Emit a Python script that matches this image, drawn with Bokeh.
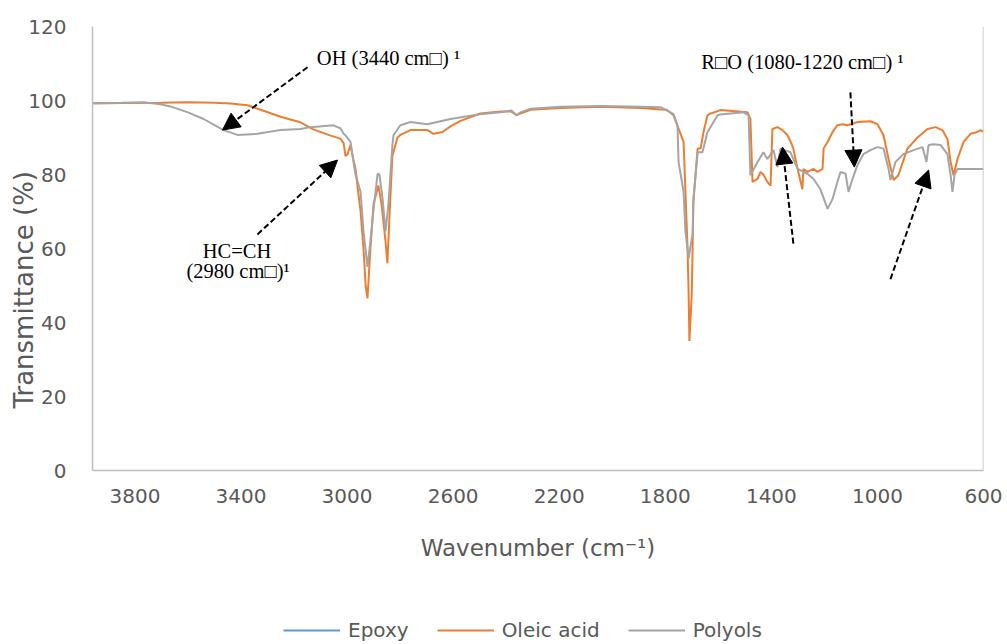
from bokeh.plotting import figure
from bokeh.layouts import column
from bokeh.models import (Range1d, Legend, LegendItem, Span, Label, Arrow, NormalHead,
                          FixedTicker, ColumnDataSource)
from bokeh.embed import file_html
from bokeh.resources import INLINE

# ---------------- data ----------------
x_ticks = [3800, 3400, 3000, 2600, 2200, 1800, 1400, 1000, 600]
y_ticks = [0, 20, 40, 60, 80, 100, 120]
series_names = ["Epoxy", "Oleic acid", "Polyols"]

epoxy_wn = []
epoxy_t = []

oleic_wn = [3960, 3850, 3700, 3600, 3500, 3440, 3375, 3326, 3251, 3176, 3127, 3062, 3025, 3013,
            3006, 2998, 2987, 2976, 2968, 2961, 2949, 2938, 2930, 2923, 2912, 2900, 2882, 2870,
            2855, 2848, 2836, 2829, 2810, 2799, 2761, 2697, 2674, 2640, 2610, 2572, 2497, 2421,
            2380, 2361, 2346, 2308, 2195, 2044, 1893, 1818, 1795, 1769, 1731, 1716, 1712, 1709,
            1700, 1694, 1678, 1667, 1656, 1641, 1629, 1592, 1490, 1479, 1471, 1452, 1441, 1430,
            1415, 1403, 1396, 1377, 1358, 1339, 1328, 1317, 1301, 1283, 1279, 1264, 1241, 1226,
            1207, 1203, 1188, 1169, 1151, 1132, 1113, 1075, 1026, 1000, 977, 958, 939, 921, 887,
            849, 811, 781, 755, 736, 724, 713, 698, 675, 649, 623, 611, 600]
oleic_t = [99.2, 99.3, 99.4, 99.5, 99.4, 99.2, 98.7, 97.5, 95.6, 94.1, 92.2, 90.5, 89.7, 88.5,
           85.0, 85.5, 88.0, 84.0, 81.5, 77.0, 70.0, 60.0, 50.0, 46.5, 60.0, 72.0, 77.0, 72.0,
           62.0, 56.0, 75.0, 85.0, 90.0, 90.7, 92.0, 92.0, 91.0, 91.5, 93.0, 94.5, 96.5, 97.0,
           97.0, 96.0, 96.5, 97.5, 98.0, 98.3, 98.0, 97.6, 97.5, 96.0, 88.8, 60.0, 48.0, 35.0,
           48.0, 72.6, 87.0, 87.0, 91.4, 96.0, 96.5, 97.4, 96.8, 95.0, 78.0, 78.8, 80.7, 80.0,
           78.0, 77.0, 92.3, 92.8, 92.0, 90.6, 89.0, 87.0, 81.5, 76.0, 81.5, 80.7, 81.5, 80.7,
           81.5, 87.0, 88.8, 91.5, 93.3, 93.6, 93.3, 94.2, 94.4, 93.6, 90.6, 84.2, 78.5, 79.8, 87.0,
           90.0, 92.3, 92.8, 92.0, 89.6, 83.4, 79.8, 84.2, 88.8, 91.0, 91.5, 92.0, 91.5]

polyols_wn = [3960, 3850, 3768, 3704, 3666, 3600, 3541, 3466, 3413, 3338, 3251, 3176, 3138, 3051,
              3036, 3025, 3013, 3006, 2987, 2976, 2968, 2949, 2938, 2923, 2912, 2900, 2885, 2878,
              2866, 2855, 2844, 2829, 2825, 2799, 2761, 2697, 2610, 2500, 2421, 2380, 2361, 2346,
              2308, 2195, 2044, 1893, 1818, 1780, 1769, 1754, 1750, 1731, 1724, 1712, 1697, 1694,
              1678, 1660, 1641, 1603, 1592, 1505, 1486, 1479, 1452, 1430, 1415, 1392, 1377, 1366,
              1328, 1301, 1264, 1241, 1215, 1188, 1169, 1151, 1139, 1120, 1109, 1094, 1075, 1053,
              1026, 1000, 977, 958, 951, 932, 902, 864, 830, 815, 807, 789, 762, 736, 724, 717,
              709, 698, 660, 600]
polyols_t = [99.3, 99.4, 99.5, 99.0, 98.4, 96.8, 95.0, 92.0, 90.7, 91.0, 92.0, 92.3, 92.8, 93.3,
             92.8, 92.5, 91.0, 90.6, 88.8, 83.4, 80.0, 75.3, 64.6, 55.0, 62.0, 70.7, 80.2, 80.0,
             73.4, 64.6, 72.0, 88.0, 90.6, 93.3, 94.2, 93.6, 95.0, 96.3, 96.8, 97.3, 96.0, 96.8,
             97.8, 98.3, 98.5, 98.3, 98.2, 96.8, 96.3, 93.3, 83.4, 75.3, 64.6, 57.3, 64.0, 73.4,
             86.0, 86.0, 91.4, 96.0, 96.2, 96.8, 96.0, 79.8, 83.4, 86.0, 84.2, 86.6, 82.0, 87.0,
             86.0, 81.5, 80.2, 78.8, 76.0, 70.7, 73.4, 78.0, 80.7, 80.2, 75.3, 78.8, 82.6, 85.5,
             86.6, 87.4, 87.0, 81.5, 78.5, 83.4, 85.5, 86.6, 87.4, 83.4, 88.0, 88.2, 88.0, 85.5,
             79.8, 75.3, 80.0, 81.5, 81.5, 81.5]

annot_texts = ["OH (3440 cm\u25a1) \u00b9", "HC=CH", "(2980 cm\u25a1)\u00b9",
               "R\u25a1O (1080-1220 cm\u25a1) \u00b9"]

# ---------------- main figure ----------------
TEXT = "#595959"
AXIS = "#BFBFBF"
FONT = "DejaVu Sans"

p = figure(width=1007, height=604, output_backend="svg", toolbar_location=None,
           x_range=Range1d(3960, 600), y_range=Range1d(0, 120),
           min_border_left=92, min_border_right=24, min_border_top=26, min_border_bottom=134)
p.outline_line_color = None
p.xgrid.visible = False
p.ygrid.visible = False

for ax in (p.xaxis[0], p.yaxis[0]):
    ax.major_tick_line_color = None
    ax.minor_tick_line_color = None
    ax.axis_line_color = AXIS
    ax.axis_line_width = 1.5
    ax.major_label_text_color = TEXT
    ax.major_label_text_font = FONT
    ax.major_label_text_font_size = "20px"
    ax.axis_label_text_color = TEXT
    ax.axis_label_text_font = FONT
    ax.axis_label_text_font_style = "normal"

p.xaxis.ticker = FixedTicker(ticks=x_ticks)
p.yaxis.ticker = FixedTicker(ticks=y_ticks)
p.xaxis.axis_label = "Wavenumber (cm\u207b\u00b9)"
# trailing no-break spaces push the visible title below the frame centre, as in the reference
p.yaxis.axis_label = "Transmittance (%)" + "\u00a0" * 10
p.xaxis.axis_label_text_font_size = "23px"
p.yaxis.axis_label_text_font_size = "26px"
p.xaxis.major_label_standoff = 12
p.xaxis.axis_label_standoff = 29
p.yaxis.major_label_standoff = 20
p.yaxis.axis_label_standoff = -14

p.add_layout(Span(location=600, dimension="height", line_color=AXIS, line_width=1.5))

colors = ["#5B9BD5", "#ED7D31", "#A5A5A5"]
p.line(x="x", y="y", source=ColumnDataSource(dict(x=epoxy_wn, y=epoxy_t)),
       line_color=colors[0], line_width=2)
p.line(x="x", y="y", source=ColumnDataSource(dict(x=oleic_wn, y=oleic_t)),
       line_color=colors[1], line_width=2)
p.line(x="x", y="y", source=ColumnDataSource(dict(x=polyols_wn, y=polyols_t)),
       line_color=colors[2], line_width=2)

# ---------------- annotations ----------------
def arrow(x0, y0, x1, y1):
    p.add_layout(Arrow(end=NormalHead(size=17, fill_color="black", line_color="black"),
                       x_start=x0, y_start=y0, x_end=x1, y_end=y1,
                       line_color="black", line_width=2, line_dash="6 3"))

arrow(3149, 109.0, 3470, 92.0)
arrow(3338, 63.8, 3036, 83.9)
arrow(1102, 102.2, 1087, 82.0)
arrow(1317, 61.3, 1358, 87.4)
arrow(951, 51.7, 807, 81.2)

def label(x, y, t):
    p.add_layout(Label(x=x, y=y, text=t, text_align="center", text_baseline="middle",
                       text_font="Liberation Serif", text_font_size="20.5px", text_color="black"))

label(2844, 111.4, annot_texts[0])
label(3415, 59.2, annot_texts[1])
label(3411, 53.8, annot_texts[2])
label(1283, 110.3, annot_texts[3])

# ---------------- legend strip ----------------
lg = figure(width=1007, height=40, output_backend="svg", toolbar_location=None,
            x_range=Range1d(0, 1), y_range=Range1d(0, 1),
            x_axis_location=None, y_axis_location=None, min_border=0)
lg.outline_line_color = None
lg.xgrid.visible = False
lg.ygrid.visible = False
nan = float("nan")
proxies = [lg.line(x=[nan], y=[nan], line_color=c, line_width=2) for c in colors]
legend = Legend(items=[LegendItem(label=n, renderers=[r]) for n, r in zip(series_names, proxies)],
                orientation="horizontal", location=(191, 2),
                glyph_width=57, glyph_height=20, label_standoff=8, spacing=28,
                padding=0, margin=0, border_line_color=None, background_fill_alpha=0,
                label_text_font=FONT, label_text_font_size="20px", label_text_color=TEXT)
lg.add_layout(legend)

open("out.html", "w").write(file_html(column(p, lg, spacing=0), INLINE))
